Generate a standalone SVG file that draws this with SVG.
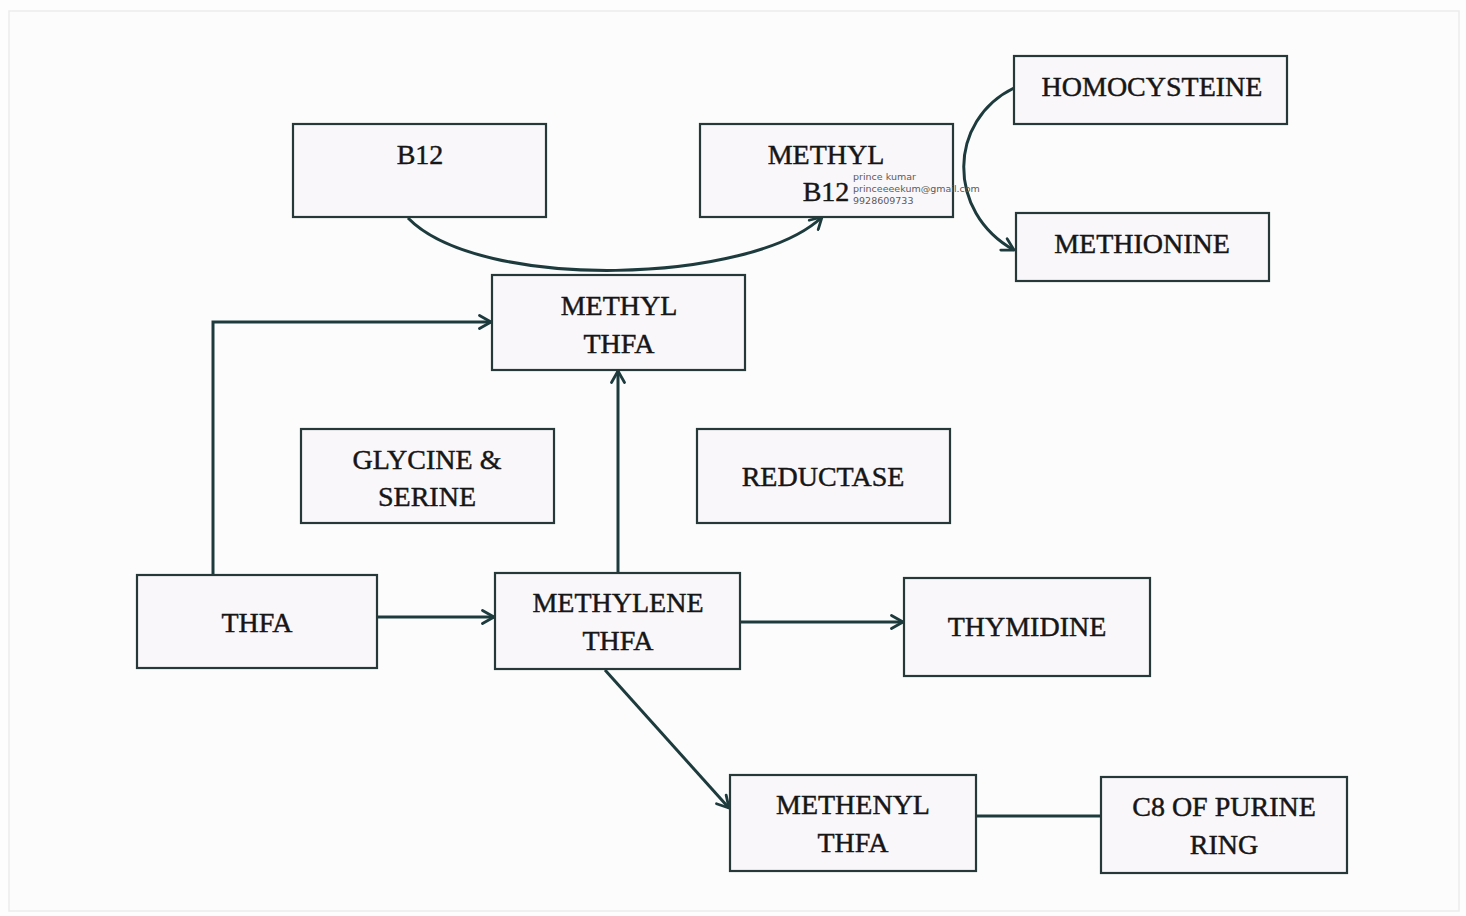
<svg xmlns="http://www.w3.org/2000/svg" width="1466" height="916" viewBox="0 0 1466 916">
  <defs>
    <marker id="chev" viewBox="0 0 16 16" refX="14" refY="8" markerWidth="16" markerHeight="16" markerUnits="userSpaceOnUse" orient="auto">
      <path d="M2.5,1.5 L14,8 L2.5,14.5" fill="none" stroke="#1d3b3d" stroke-width="2.8" stroke-linecap="round" stroke-linejoin="round"/>
    </marker>
    <style>
      .box { fill: #faf7fa; stroke: #263838; stroke-width: 2.2; }
      .lbl { font-family: "Liberation Serif", "Times New Roman", serif; font-size: 28px; fill: #161616; stroke: #161616; stroke-width: 0.45; text-anchor: middle; }
      .wire { fill: none; stroke: #1d3b3d; stroke-width: 3; }
      .wm { font-family: "DejaVu Sans", "Liberation Sans", sans-serif; font-size: 9.5px; fill: #5a5a5a; }
    </style>
  </defs>

  <!-- page -->
  <rect x="0" y="0" width="1466" height="916" fill="#fdfdfd"/>
  <rect x="9" y="11" width="1450" height="900" fill="#fcfcfc" stroke="#ececec" stroke-width="1.5"/>

  <!-- connectors -->
  <g id="connectors">
    <path class="wire" d="M408,218 C480,292 752,284 822,217" marker-end="url(#chev)"/>
    <path class="wire" d="M1014,88 C948,120 946,212 1014,250" marker-end="url(#chev)"/>
    <path class="wire" d="M213,575 L213,322 L491,322" marker-end="url(#chev)"/>
    <path class="wire" d="M377,617 L494,617" marker-end="url(#chev)"/>
    <path class="wire" d="M618,573 L618,371" marker-end="url(#chev)"/>
    <path class="wire" d="M740,622 L903,622" marker-end="url(#chev)"/>
    <path class="wire" d="M605,670 L729,808" marker-end="url(#chev)"/>
    <path class="wire" d="M976,816 L1101,816"/>
  </g>

  <!-- nodes -->
  <g id="b12">
    <rect class="box" x="293" y="124" width="253" height="93"/>
    <text class="lbl" x="420" y="164">B12</text>
  </g>
  <g id="methyl-b12">
    <rect class="box" x="700" y="124" width="253" height="93"/>
    <text class="lbl" x="826" y="164">METHYL</text>
    <text class="lbl" x="826" y="201">B12</text>
    <text class="wm" x="853" y="180">prince kumar</text>
    <text class="wm" x="853" y="192">princeeeekum@gmail.com</text>
    <text class="wm" x="853" y="204">9928609733</text>
  </g>
  <g id="homocysteine">
    <rect class="box" x="1014" y="56" width="273" height="68"/>
    <text class="lbl" x="1152" y="96">HOMOCYSTEINE</text>
  </g>
  <g id="methionine">
    <rect class="box" x="1016" y="213" width="253" height="68"/>
    <text class="lbl" x="1142" y="253">METHIONINE</text>
  </g>
  <g id="methyl-thfa">
    <rect class="box" x="492" y="275" width="253" height="95"/>
    <text class="lbl" x="619" y="315">METHYL</text>
    <text class="lbl" x="619" y="353">THFA</text>
  </g>
  <g id="glycine-serine">
    <rect class="box" x="301" y="429" width="253" height="94"/>
    <text class="lbl" x="427" y="469">GLYCINE &amp;</text>
    <text class="lbl" x="427" y="506">SERINE</text>
  </g>
  <g id="reductase">
    <rect class="box" x="697" y="429" width="253" height="94"/>
    <text class="lbl" x="823" y="486">REDUCTASE</text>
  </g>
  <g id="thfa">
    <rect class="box" x="137" y="575" width="240" height="93"/>
    <text class="lbl" x="257" y="632">THFA</text>
  </g>
  <g id="methylene-thfa">
    <rect class="box" x="495" y="573" width="245" height="96"/>
    <text class="lbl" x="618" y="612">METHYLENE</text>
    <text class="lbl" x="618" y="650">THFA</text>
  </g>
  <g id="thymidine">
    <rect class="box" x="904" y="578" width="246" height="98"/>
    <text class="lbl" x="1027" y="636">THYMIDINE</text>
  </g>
  <g id="methenyl-thfa">
    <rect class="box" x="730" y="775" width="246" height="96"/>
    <text class="lbl" x="853" y="814">METHENYL</text>
    <text class="lbl" x="853" y="852">THFA</text>
  </g>
  <g id="c8-purine">
    <rect class="box" x="1101" y="777" width="246" height="96"/>
    <text class="lbl" x="1224" y="816">C8 OF PURINE</text>
    <text class="lbl" x="1224" y="854">RING</text>
  </g>
</svg>
